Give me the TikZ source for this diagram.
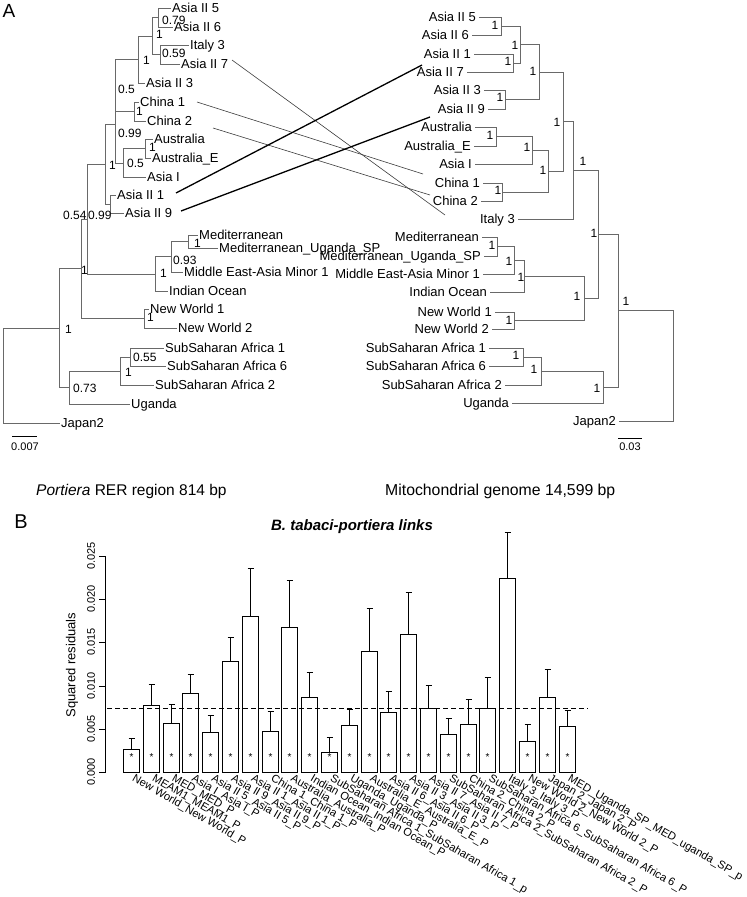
\documentclass[tikz,border=0pt]{standalone}
\usepackage{fontspec}
\setmainfont{Liberation Sans}
\newcommand{\myfs}[1]{\fontsize{#1}{#1}\selectfont}
\definecolor{treegray}{RGB}{105,105,105}
\definecolor{linkgray}{RGB}{60,60,60}
\begin{document}
\begin{tikzpicture}[x=1pt,y=-1pt,
  br/.style={draw=treegray,line width=0.9pt},
  tipl/.style={anchor=west,inner sep=1pt,font=\myfs{13},text height=9.3pt,text depth=0pt},
  tipr/.style={anchor=east,inner sep=1pt,xshift=-2pt,font=\myfs{13},text height=9.3pt,text depth=0pt},
  supl/.style={anchor=west,inner sep=0pt,font=\myfs{12},text height=8.6pt,text depth=0pt},
  supc/.style={anchor=center,inner sep=0pt,font=\myfs{12},text height=8.6pt,text depth=0pt},
  thinlink/.style={draw=linkgray,line width=0.6pt},
  thicklink/.style={draw=black,line width=1.3pt},
  barst/.style={draw=black,line width=1pt},
  sbar/.style={draw=black,line width=0.8pt},
  small/.style={inner sep=0pt,font=\myfs{11}}
]
\useasboundingbox (0,0) rectangle (747,897);

% panel letters
\node[inner sep=0pt,font=\myfs{19}] (pa) at (9,11) {A};
\node[inner sep=0pt,font=\myfs{20}] (pb) at (21,522) {B};

% ---------------- left tree (Portiera) ----------------
\coordinate (L1) at (171,8);
\coordinate (L2) at (173,27);
\coordinate (L3) at (189,45);
\coordinate (L4) at (180,64);
\coordinate (L5) at (145,83);
\coordinate (L6) at (139,102);
\coordinate (L7) at (146,121);
\coordinate (L8) at (153,139);
\coordinate (L9) at (151,158);
\coordinate (L10) at (146,177);
\coordinate (L11) at (116,195);
\coordinate (L12) at (124,213);
\coordinate (L13) at (198,235);
\coordinate (L14) at (218,248);
\coordinate (L15) at (183,272);
\coordinate (L16) at (168,291);
\coordinate (L17) at (149,309);
\coordinate (L18) at (177,328);
\coordinate (L19) at (164,348);
\coordinate (L20) at (166,366);
\coordinate (L21) at (154,385);
\coordinate (L22) at (130,404);
\coordinate (L23) at (60,423);

\node[tipl] (tL1) at (L1) {Asia II 5};
\node[tipl] (tL2) at (L2) {Asia II 6};
\node[tipl] (tL3) at (L3) {Italy 3};
\node[tipl] (tL4) at (L4) {Asia II 7};
\node[tipl] (tL5) at (L5) {Asia II 3};
\node[tipl] (tL6) at (L6) {China 1};
\node[tipl] (tL7) at (L7) {China 2};
\node[tipl] (tL8) at (L8) {Australia};
\node[tipl] (tL9) at (L9) {Australia\_E};
\node[tipl] (tL10) at (L10) {Asia I};
\node[tipl] (tL11) at (L11) {Asia II 1};
\node[tipl] (tL12) at (L12) {Asia II 9};
\node[tipl] (tL13) at (L13) {Mediterranean};
\node[tipl] (tL14) at (L14) {Mediterranean\_Uganda\_SP};
\node[tipl] (tL15) at (L15) {Middle East-Asia Minor 1};
\node[tipl] (tL16) at (L16) {Indian Ocean};
\node[tipl] (tL17) at (L17) {New World 1};
\node[tipl] (tL18) at (L18) {New World 2};
\node[tipl] (tL19) at (L19) {SubSaharan Africa 1};
\node[tipl] (tL20) at (L20) {SubSaharan Africa 6};
\node[tipl] (tL21) at (L21) {SubSaharan Africa 2};
\node[tipl] (tL22) at (L22) {Uganda};
\node[tipl] (tL23) at (L23) {Japan2};

\coordinate (n56) at (158,17.5);
\coordinate (n37) at (160,54.5);
\coordinate (na) at (152,36);
\coordinate (nb) at (138,59.5);
\coordinate (nch) at (134,111.5);
\coordinate (nc) at (115,85.5);
\coordinate (naus) at (145,148.5);
\coordinate (nd) at (123,163);
\coordinate (ne) at (115,124.25);
\coordinate (nAB) at (110,204);
\coordinate (nf) at (105,164);
\coordinate (nM12) at (188,241.5);
\coordinate (nM3) at (171,256.75);
\coordinate (nM4) at (155,274);
\coordinate (nG) at (87,219);
\coordinate (nNW) at (144,318.5);
\coordinate (nU) at (81,268.75);
\coordinate (nSA16) at (130,357);
\coordinate (nSAf) at (120,371);
\coordinate (nAf) at (69,387.5);
\coordinate (nS) at (59,328);
\coordinate (nRoot) at (3,375.5);

\foreach \p/\c in {n56/L1,n56/L2,n37/L3,n37/L4,na/n56,na/n37,nb/na,nb/L5,
  nch/L6,nch/L7,nc/nb,nc/nch,naus/L8,naus/L9,nd/naus,nd/L10,ne/nc,ne/nd,
  nAB/L11,nAB/L12,nf/ne,nf/nAB,nM12/L13,nM12/L14,nM3/nM12,nM3/L15,
  nM4/nM3,nM4/L16,nG/nf,nG/nM4,nNW/L17,nNW/L18,nU/nG,nU/nNW,
  nSA16/L19,nSA16/L20,nSAf/nSA16,nSAf/L21,nAf/nSAf,nAf/L22,
  nS/nU,nS/nAf,nRoot/nS,nRoot/L23}
  \draw[br] (\p) |- (\c);

% support values left
\node[supl] (sl1) at (162,20) {0.79};
\node[supl] (sl2) at (162,53) {0.59};
\node[supl] (sl3) at (156,34) {1};
\node[supl] (sl4) at (143,60) {1};
\node[supl] (sl5) at (118,89) {0.5};
\node[supl] (sl6) at (136,111) {1};
\node[supl] (sl7) at (118,133) {0.99};
\node[supl] (sl8) at (149,147) {1};
\node[supl] (sl9) at (127,163) {0.5};
\node[supl] (sl10) at (109,165) {1};
\node[supl] (sl11) at (63,215) {0.54};
\node[supl] (sl12) at (88,215) {0.99};
\node[supl] (sl13) at (81,270) {1};
\node[supl] (sl14) at (65,329) {1};
\node[supl] (sl15) at (194,243) {1};
\node[supl] (sl16) at (173,260) {0.93};
\node[supl] (sl17) at (160,273) {1};
\node[supl] (sl18) at (147,317) {1};
\node[supl] (sl19) at (133,357) {0.55};
\node[supl] (sl20) at (125,372) {1};
\node[supl] (sl21) at (73,388) {0.73};

% scale bar left
\draw[sbar] (12,436) -- (37,436);
\node[small] (scl) at (25,447) {0.007};

% ---------------- right tree (mitochondrial) ----------------
\coordinate (R1) at (479,17);
\coordinate (R2) at (472,35);
\coordinate (R3) at (474,54);
\coordinate (R4) at (467,72);
\coordinate (R5) at (484,90);
\coordinate (R6) at (488,109);
\coordinate (R7) at (475,127);
\coordinate (R8) at (474,146);
\coordinate (R9) at (475,164);
\coordinate (R10) at (483,183);
\coordinate (R11) at (481,201);
\coordinate (R12) at (518,219);
\coordinate (R13) at (482,237);
\coordinate (R14) at (484,256);
\coordinate (R15) at (483,274);
\coordinate (R16) at (490,292);
\coordinate (R17) at (495,312);
\coordinate (R18) at (492,329);
\coordinate (R19) at (489,348);
\coordinate (R20) at (489,366);
\coordinate (R21) at (505,385);
\coordinate (R22) at (512,403);
\coordinate (R23) at (619,421);

\node[tipr] (tR1) at (R1) {Asia II 5};
\node[tipr] (tR2) at (R2) {Asia II 6};
\node[tipr] (tR3) at (R3) {Asia II 1};
\node[tipr] (tR4) at (R4) {Asia II 7};
\node[tipr] (tR5) at (R5) {Asia II 3};
\node[tipr] (tR6) at (R6) {Asia II 9};
\node[tipr] (tR7) at (R7) {Australia};
\node[tipr] (tR8) at (R8) {Australia\_E};
\node[tipr] (tR9) at (R9) {Asia I};
\node[tipr] (tR10) at (R10) {China 1};
\node[tipr] (tR11) at (R11) {China 2};
\node[tipr] (tR12) at (R12) {Italy 3};
\node[tipr] (tR13) at (R13) {Mediterranean};
\node[tipr] (tR14) at (R14) {Mediterranean\_Uganda\_SP};
\node[tipr] (tR15) at (R15) {Middle East-Asia Minor 1};
\node[tipr] (tR16) at (R16) {Indian Ocean};
\node[tipr] (tR17) at (R17) {New World 1};
\node[tipr] (tR18) at (R18) {New World 2};
\node[tipr] (tR19) at (R19) {SubSaharan Africa 1};
\node[tipr] (tR20) at (R20) {SubSaharan Africa 6};
\node[tipr] (tR21) at (R21) {SubSaharan Africa 2};
\node[tipr] (tR22) at (R22) {Uganda};
\node[tipr] (tR23) at (R23) {Japan2};

\coordinate (r56) at (501,26);
\coordinate (r17) at (513,63);
\coordinate (r5617) at (520,44.5);
\coordinate (r39) at (505,99.5);
\coordinate (rA2) at (539,72);
\coordinate (raus) at (496,136.5);
\coordinate (raus2) at (532,150.25);
\coordinate (rch) at (502,192);
\coordinate (rAC) at (548,171);
\coordinate (rA3) at (563,121.5);
\coordinate (rA4) at (573,170.25);
\coordinate (rM12) at (497,246.5);
\coordinate (rM3) at (514,260.25);
\coordinate (rM4) at (524,276);
\coordinate (rNW) at (514,320.5);
\coordinate (rMN) at (584,298.25);
\coordinate (rA5) at (598,234.25);
\coordinate (rSA16) at (523,357);
\coordinate (rSA) at (541,371);
\coordinate (rAf) at (603,387);
\coordinate (rAll) at (618,310.5);
\coordinate (rRoot) at (673,365.75);

\foreach \p/\c in {r56/R1,r56/R2,r17/R3,r17/R4,r5617/r56,r5617/r17,r39/R5,r39/R6,
  rA2/r5617,rA2/r39,raus/R7,raus/R8,raus2/raus,raus2/R9,rch/R10,rch/R11,
  rAC/raus2,rAC/rch,rA3/rA2,rA3/rAC,rA4/rA3,rA4/R12,rM12/R13,rM12/R14,
  rM3/rM12,rM3/R15,rM4/rM3,rM4/R16,rNW/R17,rNW/R18,rMN/rM4,rMN/rNW,
  rA5/rA4,rA5/rMN,rSA16/R19,rSA16/R20,rSA/rSA16,rSA/R21,rAf/rSA,rAf/R22,
  rAll/rA5,rAll/rAf,rRoot/rAll,rRoot/R23}
  \draw[br] (\p) |- (\c);

\foreach \n/\x/\y in {1/495/25,2/508/61,3/515/45,4/500/97,5/533/71,6/490/135,
  7/527/147,8/498/190,9/543/170,10/557/122,11/583/161,12/492/245,13/509/261,
  14/521/277,15/509/320,16/577/296,17/516/355,18/534/369,19/597/388,
  20/594/233,21/626/301}
  \node[supc] (sr\n) at (\x,\y) {1};

% scale bar right
\draw[sbar] (618,438) -- (642,438);
\node[small] (scr) at (630,447) {0.03};

% ---------------- links ----------------
\coordinate (kA7l) at (232,60);  \coordinate (kI3r) at (445,215);
\coordinate (kC1l) at (197,102); \coordinate (kC1r) at (423,174);
\coordinate (kC2l) at (213,128); \coordinate (kC2r) at (430,195);
\coordinate (kA1l) at (176,193); \coordinate (kA1r) at (422,65);
\coordinate (kA9l) at (181,211); \coordinate (kA9r) at (430,117);
\draw[thinlink] (kA7l) -- (kI3r);
\draw[thinlink] (kC1l) -- (kC1r);
\draw[thinlink] (kC2l) -- (kC2r);
\draw[thicklink] (kA1l) -- (kA1r);
\draw[thicklink] (kA9l) -- (kA9r);

% captions
\node[anchor=west,inner sep=0pt,font=\myfs{15.5}] (capl) at (36,491) {\itshape Portiera\upshape{} RER region 814 bp};
\node[anchor=west,inner sep=0pt,font=\myfs{15.8}] (capr) at (385,491) {Mitochondrial genome 14,599 bp};

% ---------------- bar chart ----------------
\node[inner sep=0pt,font=\myfs{15}] (title) at (352,527) {\bfseries\itshape B. tabaci-portiera links};

\draw[line width=0.9pt] (105.5,556) -- (105.5,772);
\foreach \v/\y in {0.000/772,0.005/729,0.010/686,0.015/642,0.020/599,0.025/556} {
  \draw[line width=0.9pt] (99,\y+0.5) -- (105.5,\y+0.5);
  \node[small,rotate=90] (tk\y) at (91,\y) {\v};
}
\node[inner sep=0pt,rotate=90,font=\myfs{13}] (ylab) at (72,665) {Squared residuals};

\foreach \i/\t/\e in {1/749/738,2/705/684,3/723/704,4/693/674,5/732/715,6/661/637,
  7/616/568,8/731/711,9/627/580,10/697/672,11/752/737,12/725/709,13/651/608,
  14/712/691,15/634/592,16/708/685,17/734/718,18/724/699,19/708/677,20/578/532,
  21/741/724,22/697/669,23/726/710} {
  \pgfmathsetmacro\xc{round(131+(\i-1)*19.8)+0.5}
  \draw[barst] ({\xc-8},772.5) rectangle ({\xc+8},\t+0.5);
  \draw[barst] (\xc,\t+0.5) -- (\xc,\e+0.5);
  \draw[barst] ({\xc-3},\e+0.5) -- ({\xc+3},\e+0.5);
}
\foreach \i in {1,...,19,21,22,23} {
  \pgfmathsetmacro\xc{round(131+(\i-1)*19.8)+0.5}
  \node[inner sep=0pt,font=\myfs{10}] (st\i) at (\xc,757) {*};
}

\draw[line width=1pt,dash pattern=on 5pt off 3pt] (107,708.5) -- (588,708.5);

\foreach \i/\lab in {1/New World\_New World\_P,2/MEAM1\_MEAM1\_P,3/MED\_MED\_P,
  4/Asia I\_Asia I\_P,5/Asia II 5\_Asia II 5\_P,6/Asia II 9\_Asia II 9\_P,
  7/Asia II 1\_Asia II 1\_P,8/China 1\_China 1\_P,9/Australia\_Australia\_P,
  10/Indian Ocean\_Indian Ocean\_P,11/SubSaharan Africa 1\_SubSaharan Africa 1\_p,
  12/Uganda\_Uganda\_P,13/Australia\_E\_Australia\_E\_P,14/Asia II 6\_Asia II 6\_P,
  15/Asia II 3\_Asia II 3\_P,16/Asia II 7\_Asia II 7\_P,
  17/SubSaharan Africa 2\_SubSaharan Africa 2\_P,18/China 2\_China 2\_P,
  19/SubSaharan Africa 6\_SubSaharan Africa 6\_P,20/Italy 3\_Italy 3\_P,
  21/New World 2\_New World 2\_P,22/Japan 2\_Japan 2\_P,
  23/MED\_Uganda\_SP\_MED\_uganda\_SP\_p} {
  \pgfmathsetmacro\xc{131+(\i-1)*19.8+2}
  \node[anchor=west,inner sep=0pt,rotate=-30,font=\myfs{11.2}] (bl\i) at (\xc,778) {\lab};
}
\end{tikzpicture}
\end{document}
